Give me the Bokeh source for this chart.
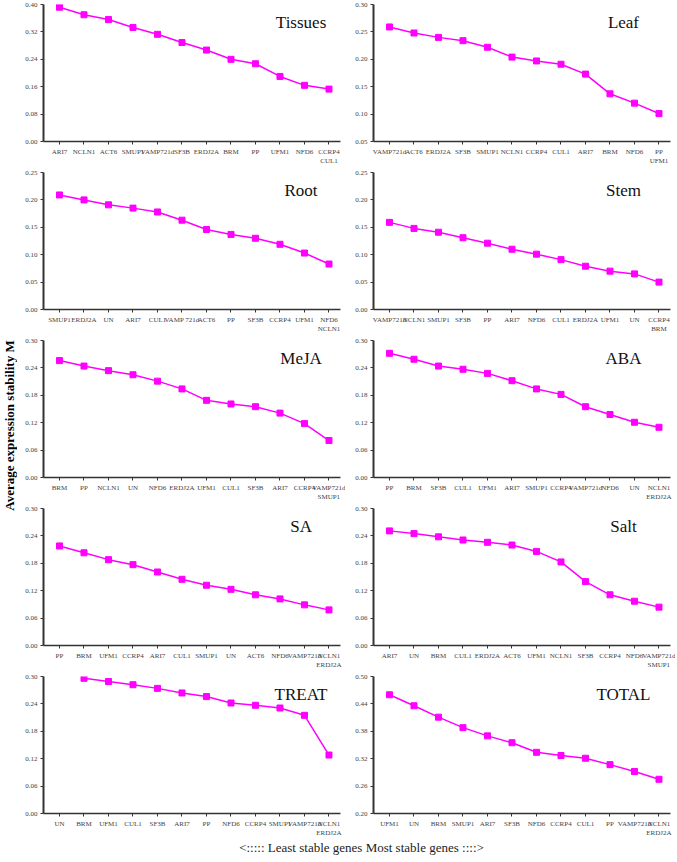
import numpy as np
from bokeh.plotting import figure
from bokeh.models import FixedTicker, Range1d, Label
from bokeh.layouts import column, row
from bokeh.embed import file_html
from bokeh.resources import INLINE

# ---------------- data ----------------
tissues_genes = ["ARI7", "NCLN1", "ACT6", "SMUP1", "VAMP721d", "SF3B", "ERDJ2A", "BRM", "PP", "UFM1", "NFD6", "CCRP4\nCUL1"]
tissues_m = [0.392, 0.370, 0.356, 0.333, 0.313, 0.289, 0.267, 0.240, 0.227, 0.190, 0.164, 0.153]

leaf_genes = ["VAMP721d", "ACT6", "ERDJ2A", "SF3B", "SMUP1", "NCLN1", "CCRP4", "CUL1", "ARI7", "BRM", "NFD6", "PP\nUFM1"]
leaf_m = [0.259, 0.248, 0.240, 0.234, 0.222, 0.204, 0.197, 0.191, 0.173, 0.137, 0.120, 0.101]

root_genes = ["SMUP1", "ERDJ2A", "UN", "ARI7", "CUL1", "VAMP 721d", "ACT6", "PP", "SF3B", "CCRP4", "UFM1", "NFD6\nNCLN1"]
root_m = [0.209, 0.200, 0.191, 0.185, 0.178, 0.163, 0.146, 0.137, 0.130, 0.119, 0.103, 0.083]

stem_genes = ["VAMP721d", "NCLN1", "SMUP1", "SF3B", "PP", "ARI7", "NFD6", "CUL1", "ERDJ2A", "UFM1", "UN", "CCRP4\nBRM"]
stem_m = [0.159, 0.148, 0.141, 0.131, 0.121, 0.110, 0.101, 0.091, 0.079, 0.070, 0.065, 0.050]

meja_genes = ["BRM", "PP", "NCLN1", "UN", "NFD6", "ERDJ2A", "UFM1", "CUL1", "SF3B", "ARI7", "CCRP4", "VAMP721d\nSMUP1"]
meja_m = [0.256, 0.244, 0.234, 0.225, 0.211, 0.194, 0.169, 0.161, 0.155, 0.141, 0.118, 0.081]

aba_genes = ["PP", "BRM", "SF3B", "CUL1", "UFM1", "ARI7", "SMUP1", "CCRP4", "VAMP721d", "NFD6", "UN", "NCLN1\nERDJ2A"]
aba_m = [0.272, 0.259, 0.244, 0.237, 0.228, 0.212, 0.194, 0.182, 0.155, 0.138, 0.121, 0.110]

sa_genes = ["PP", "BRM", "UFM1", "CCRP4", "ARI7", "CUL1", "SMUP1", "UN", "ACT6", "NFD6", "VAMP721d", "NCLN1\nERDJ2A"]
sa_m = [0.218, 0.203, 0.188, 0.177, 0.161, 0.145, 0.132, 0.123, 0.111, 0.102, 0.089, 0.078]

salt_genes = ["ARI7", "UN", "BRM", "CUL1", "ERDJ2A", "ACT6", "UFM1", "NCLN1", "SF3B", "CCRP4", "NFD6", "VAMP721d\nSMUP1"]
salt_m = [0.251, 0.245, 0.238, 0.231, 0.226, 0.220, 0.206, 0.183, 0.140, 0.111, 0.097, 0.084]

treat_genes = ["UN", "BRM", "UFM1", "CUL1", "SF3B", "ARI7", "PP", "NFD6", "CCRP4", "SMUP1", "VAMP721d", "NCLN1\nERDJ2A"]
treat_m = [np.nan, 0.296, 0.289, 0.282, 0.274, 0.264, 0.256, 0.242, 0.237, 0.231, 0.215, 0.128]

total_genes = ["UFM1", "UN", "BRM", "SMUP1", "ARI7", "SF3B", "NFD6", "CCRP4", "CUL1", "PP", "VAMP721d", "NCLN1\nERDJ2A"]
total_m = [0.460, 0.436, 0.411, 0.388, 0.370, 0.355, 0.334, 0.327, 0.321, 0.307, 0.292, 0.275]

y_title = "Average expression stability M"
x_title = "<::::: Least stable genes Most stable genes ::::>"

SERIF = "Liberation Serif"
MAGENTA = "#FF00FF"


def panel(name, genes, m, ymin, ymax, ystep, left):
    if left:
        w, bl, br, tx = 328, 26, 5, 9.86
    else:
        w, bl, br, tx = 330, 28, 5, 9.55
    h, bt, bb = 168, 4, 25
    p = figure(width=w, height=h, output_backend="svg", toolbar_location=None,
               x_range=Range1d(-0.653, 11.47), y_range=Range1d(ymin, ymax),
               min_border_left=bl, min_border_right=br, min_border_top=bt, min_border_bottom=bb)
    p.outline_line_color = None
    p.grid.visible = False
    x = np.arange(len(genes))
    y = np.array(m, dtype=float)
    p.line(x, y, line_color=MAGENTA, line_width=1.5)
    p.scatter(x, y, marker="square", size=6, fill_color=MAGENTA, line_color=MAGENTA)

    p.xaxis.ticker = FixedTicker(ticks=list(range(len(genes))))
    p.xaxis.major_label_overrides = {int(i): g for i, g in enumerate(genes)}
    yt = [round(v, 2) for v in np.arange(ymin, ymax + 1e-9, ystep)]
    p.yaxis.ticker = FixedTicker(ticks=yt)
    p.yaxis.major_label_overrides = {v: f"{v:.2f}" for v in yt}
    for ax in (p.xaxis, p.yaxis):
        ax.axis_line_color = "#333333"
        ax.axis_line_width = 1.5
        ax.major_tick_line_color = "#333333"
        ax.major_tick_in = 0
        ax.major_tick_out = 3
        ax.minor_tick_line_color = None
        ax.major_label_text_font = SERIF
        ax.major_label_text_font_size = "7px"
        ax.major_label_text_color = "#444444"
    p.yaxis.axis_line_width = 2
    p.xaxis.major_label_standoff = 3
    p.yaxis.major_label_standoff = 3

    ty = ymax - 18 * (ymax - ymin) / 139
    p.add_layout(Label(x=tx, y=ty, text=name, text_font=SERIF, text_font_size="17px",
                       text_align="center", text_baseline="middle", text_color="#111111"))
    return p


panels = [
    (panel("Tissues", tissues_genes, tissues_m, 0.0, 0.40, 0.08, True),
     panel("Leaf", leaf_genes, leaf_m, 0.05, 0.30, 0.05, False)),
    (panel("Root", root_genes, root_m, 0.0, 0.25, 0.05, True),
     panel("Stem", stem_genes, stem_m, 0.0, 0.25, 0.05, False)),
    (panel("MeJA", meja_genes, meja_m, 0.0, 0.30, 0.06, True),
     panel("ABA", aba_genes, aba_m, 0.0, 0.30, 0.06, False)),
    (panel("SA", sa_genes, sa_m, 0.0, 0.30, 0.06, True),
     panel("Salt", salt_genes, salt_m, 0.0, 0.30, 0.06, False)),
    (panel("TREAT", treat_genes, treat_m, 0.0, 0.30, 0.06, True),
     panel("TOTAL", total_genes, total_m, 0.20, 0.50, 0.06, False)),
]

# y-axis title figure
ylab = figure(width=17, height=840, output_backend="svg", toolbar_location=None,
              x_range=Range1d(0, 17), y_range=Range1d(0, 840),
              min_border=0, min_border_left=0, min_border_right=0, min_border_top=0, min_border_bottom=0)
ylab.axis.visible = False
ylab.grid.visible = False
ylab.outline_line_color = None
ylab.add_layout(Label(x=8.5, y=840 - 425, text=y_title, angle=np.pi / 2, text_font=SERIF,
                      text_font_size="13px", text_font_style="bold", text_align="center",
                      text_baseline="middle", text_color="#000000"))

# bottom text figure
xlab = figure(width=675, height=22, output_backend="svg", toolbar_location=None,
              x_range=Range1d(0, 675), y_range=Range1d(0, 22),
              min_border=0, min_border_left=0, min_border_right=0, min_border_top=0, min_border_bottom=0)
xlab.axis.visible = False
xlab.grid.visible = False
xlab.outline_line_color = None
xlab.add_layout(Label(x=361, y=22 - 7, text=x_title, text_font=SERIF, text_font_size="13px",
                      text_align="center", text_baseline="middle", text_color="#222222"))

grid = column(*[row(a, b) for a, b in panels])
layout = column(row(ylab, grid), xlab)

open("out.html", "w").write(file_html(layout, INLINE))
